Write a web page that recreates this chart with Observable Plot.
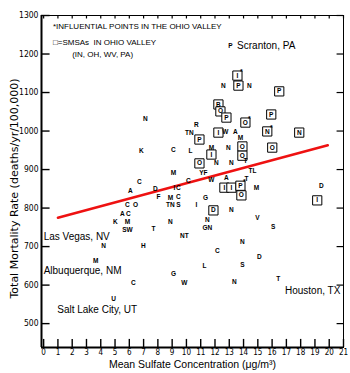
<!DOCTYPE html>
<html><head><meta charset="utf-8">
<script src="https://cdn.jsdelivr.net/npm/d3@7"></script>
<script src="https://cdn.jsdelivr.net/npm/@observablehq/plot@0.6"></script>
<style>body{margin:0;background:#fff} svg{font-family:"Liberation Sans",Arial,sans-serif}</style>
</head><body><div id="chart"></div>
<script>
// Axis ticks
const xTicks = [0,1,2,3,4,5,6,7,8,9,10,11,12,13,14,15,16,17,18,19,20,21];
const yTicks = [500,600,700,800,900,1000,1100,1200,1300];

// Point labels (state / region codes), positions, box flag (Ohio Valley SMSA), star flag (influential)
const ptLabel = ["N","K","C","M","C","A","D","F","I","C","M","C","TN","S","C","C","O","A","C","K","M","SW","T","N","I","D","N","V","N","GN","NT","S","N","H","N","C","D","L","S","M","C","G","W","N","U","T","P","I","P","N","N","P","B","O","P","P","O","N","N","R","TN","P","I","W","A","M","L","M","I","N","O","O","O","O","N","N","T","TL","YF","W","A","T","I","I","P","O","M","D","I","G"];
const ptX = [7.13,6.85,9.09,9.09,6.71,6.08,7.83,8.04,9.16,9.44,8.88,9.44,8.88,9.44,10.14,5.87,6.43,5.52,5.94,5.03,5.87,5.87,7.69,8.88,10.7,11.89,13.15,14.97,11.47,11.47,9.86,16.08,4.2,6.99,13.92,12.17,15.1,11.26,13.92,3.64,6.29,9.09,9.86,13.36,4.9,16.43,13.08,13.57,13.64,12.59,14.41,16.5,12.24,12.38,12.8,15.94,14.13,15.66,17.9,10.7,10.21,10.91,12.24,12.73,13.43,13.78,10.28,11.75,11.75,12.94,13.92,13.92,16.01,10.91,12.1,13.15,14.13,14.62,11.19,11.75,12.8,14.2,12.66,13.15,13.78,13.85,14.9,19.44,19.16,11.33];
const ptY = [1032,949,952,892,869,845,851,830,853,853,827,830,809,809,871,807,807,786,786,765,765,744,747,765,809,794,794,775,770,749,729,752,703,703,713,690,674,651,653,664,607,630,607,609,565,617,1222,1144,1118,1118,1118,1103,1069,1051,1035,1043,1022,999,996,1017,996,978,996,999,999,981,949,957,939,955,960,936,957,916,916,916,923,897,892,874,879,877,853,853,858,833,853,858,820,827];
const ptBoxed = [0,0,0,0,0,0,0,0,0,0,0,0,0,0,0,0,0,0,0,0,0,0,0,0,0,1,0,0,0,0,0,0,0,0,0,0,0,0,0,0,0,0,0,0,0,0,0,1,1,0,0,1,1,1,1,1,1,1,1,0,0,1,1,0,0,0,0,0,1,0,1,1,1,1,0,0,0,0,0,0,0,0,1,1,1,1,0,0,1,0];
const ptStar = [0,0,0,0,0,0,0,0,0,0,0,0,0,0,0,0,0,0,0,0,0,0,0,0,0,0,0,0,0,0,0,0,0,0,0,0,0,0,0,0,0,0,0,0,0,0,0,1,0,0,0,0,0,0,0,0,1,1,0,0,0,0,0,0,0,0,0,0,0,0,0,0,0,0,0,0,0,0,0,0,0,0,0,0,1,0,0,0,0,0];

// Regression line endpoints
const fitX = [1.0, 19.9];
const fitY = [775, 963];

// City annotations
const cityName = ["Scranton, PA","Las Vegas, NV","Albuquerque, NM","Salt Lake City, UT","Houston, TX"];
const cityX = [13.55, 0.0, 0.0, 0.95, 16.9];
const cityY = [1222, 726, 638, 536, 586];

// Legend lines
const legendText = ["*INFLUENTIAL POINTS IN THE OHIO VALLEY","\u25A1=SMSAs  IN OHIO VALLEY","(IN, OH, WV, PA)"];
const legendX = [0.65, 0.65, 2.0];
const legendY = [1272, 1230, 1199];

const xTitle = "Mean Sulfate Concentration (\u03BCg/m\u00B3)";
const yTitle = "Total Mortality Rate (deaths/yr/100,000)";

const pts = ptLabel.map((l,i)=>({label:l, x:ptX[i], y:ptY[i], boxed:!!ptBoxed[i], star:!!ptStar[i]}));
const fit = fitX.map((x,i)=>({x, y:fitY[i]}));
const cities = cityName.map((n,i)=>({n, x:cityX[i], y:cityY[i]}));
const legend = legendText.map((t,i)=>({t, x:legendX[i], y:legendY[i]}));

const x0 = -0.15, x1 = 21, y0 = 438, y1 = 1300;

const chart = Plot.plot({
  width: 350, height: 373,
  marginLeft: 41, marginRight: 7, marginTop: 15, marginBottom: 26,
  x: {domain: [x0, x1]},
  y: {domain: [y0, y1]},
  style: {background: "white", color: "black"},
  marks: [
    Plot.frame({stroke: "black", strokeWidth: 1}),
    Plot.ruleX([x0], {stroke: "black", strokeWidth: 2}),
    Plot.ruleY([y0], {stroke: "black", strokeWidth: 2}),
    Plot.ruleX(xTicks, {x: d=>d, y1: y0, y2: y0 + 21, stroke: "black", strokeWidth: 1.4}),
    Plot.ruleX(xTicks, {x: d=>d, y1: y1, y2: y1 - 9, stroke: "black", strokeWidth: 1.2}),
    Plot.ruleY(yTicks, {y: d=>d, x1: x0, x2: x0 + 0.6, stroke: "black", strokeWidth: 1.4}),
    Plot.ruleY(yTicks, {y: d=>d, x1: x1 - 0.45, x2: x1, stroke: "black", strokeWidth: 1.2}),
    Plot.axisX({ticks: xTicks, tickSize: 0, tickPadding: 2, tickFormat: d=>String(d), label: null, fontSize: 8, fontFamily: "DejaVu Sans Condensed, Liberation Sans Narrow, sans-serif", letterSpacing: "-0.6px"}),
    Plot.axisY({ticks: yTicks, tickSize: 0, tickPadding: 3, tickFormat: d=>String(d), label: null, fontSize: 8.5, fontFamily: "DejaVu Sans Condensed, Liberation Sans Narrow, sans-serif", letterSpacing: "-0.5px"}),
    Plot.line(fit, {x: "x", y: "y", stroke: "#ee1111", strokeWidth: 2.5}),
    Plot.dot(pts.filter(d=>d.boxed), {x: "x", y: "y", symbol: "square", r: 5.2, fill: "white", stroke: "black", strokeWidth: 1}),
    Plot.text(pts, {x: "x", y: "y", text: "label", fontSize: 6.5, fontWeight: "bold", fill: "black"}),
    Plot.text(pts.filter(d=>d.star), {x: "x", y: "y", text: d=>"*", dx: 4, dy: -4, fontSize: 7, fontWeight: "bold"}),
    Plot.text(cities, {x: "x", y: "y", text: "n", textAnchor: "start", fontSize: 10, fill: "black"}),
    Plot.text(legend, {x: "x", y: "y", text: "t", textAnchor: "start", fontSize: 8, letterSpacing: "1.3px", fill: "black"}),
    Plot.text([xTitle], {frameAnchor: "bottom", dy: 20.5, fontSize: 10.5, letterSpacing: "0.45px"}),
    Plot.text([yTitle], {x: d=>x0, y: d=>851, rotate: -90, dx: -27, fontSize: 11, fontFamily: "DejaVu Sans, sans-serif", letterSpacing: "1.2px"})
  ]
});
document.getElementById("chart").appendChild(chart);
</script>
</body></html>
